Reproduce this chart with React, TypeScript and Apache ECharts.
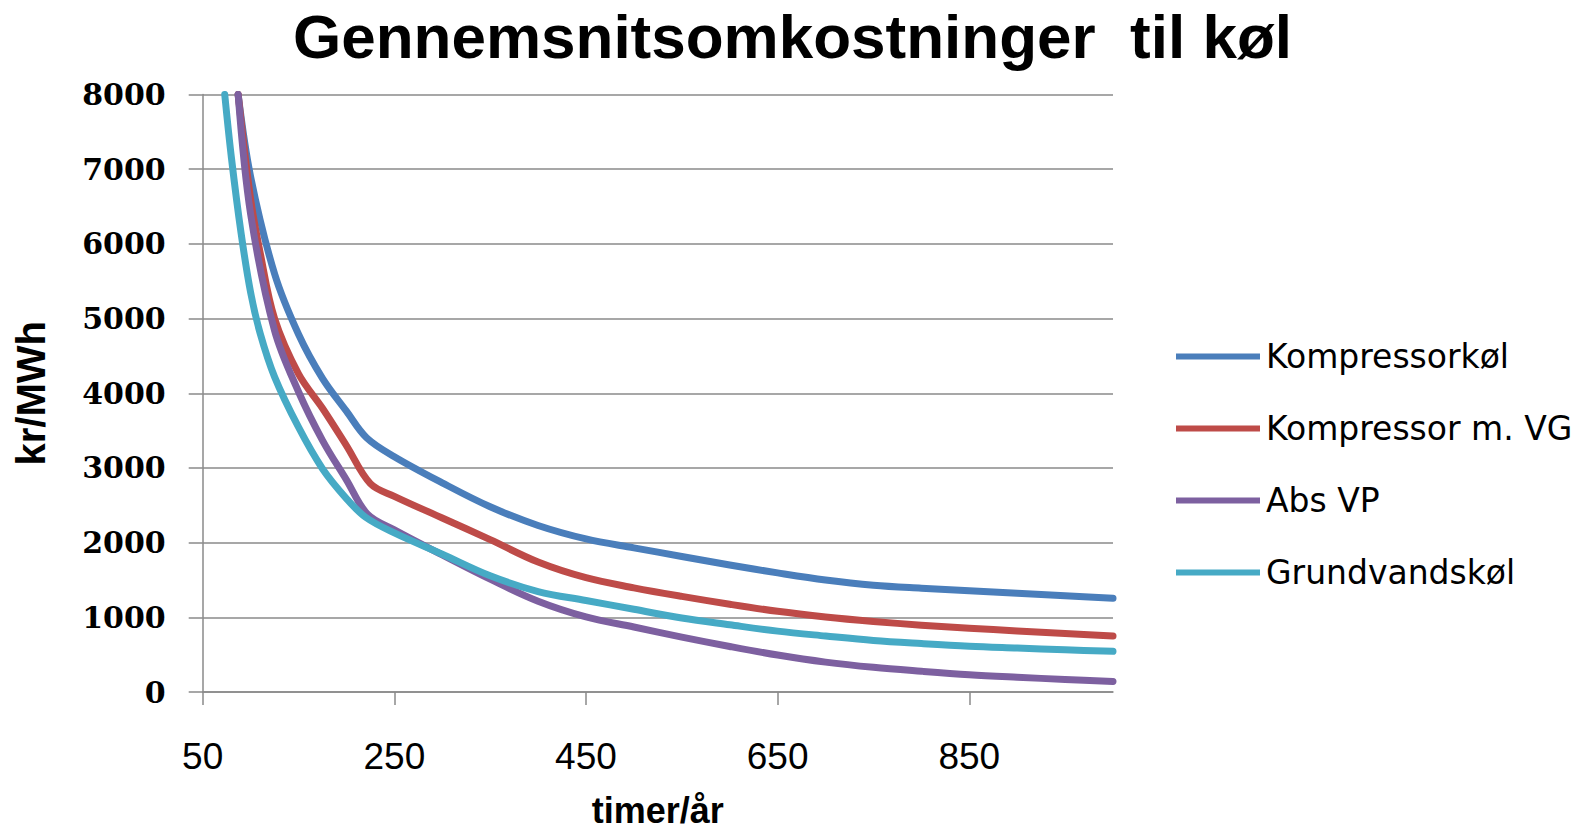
import React, { useEffect, useRef } from "react";
import * as echarts from "echarts";

const titleText = "Gennemsnitsomkostninger  til køl";
const xName = "timer/år";
const yName = "kr/MWh";

const seriesNames = ["Kompressorkøl", "Kompressor m. VG", "Abs VP", "Grundvandskøl"];
const seriesColors = ["#4A7EBB", "#BE4B48", "#7D60A0", "#46AAC5"];

const xTicks = [50, 250, 450, 650, 850];

const kompHours = [87, 100, 125, 150, 175, 200, 221, 250, 300, 350, 400, 450, 500, 550, 600, 650, 700, 750, 800, 850, 900, 950, 1000];
const kompValues = [8000, 6900, 5600, 4790, 4200, 3760, 3404, 3150, 2800, 2480, 2230, 2050, 1930, 1815, 1700, 1595, 1500, 1430, 1390, 1357, 1322, 1288, 1255];

const vgHours = [87, 100, 110, 125, 150, 175, 200, 225, 250, 300, 350, 400, 450, 500, 550, 600, 650, 700, 750, 800, 850, 900, 950, 1000];
const vgValues = [8000, 6600, 5880, 5000, 4260, 3800, 3300, 2790, 2620, 2330, 2040, 1740, 1530, 1395, 1280, 1175, 1080, 1005, 945, 895, 855, 818, 783, 750];

const absHours = [87, 100, 125, 150, 175, 200, 222, 250, 300, 350, 400, 450, 500, 550, 600, 650, 700, 750, 800, 850, 900, 950, 1000];
const absValues = [8000, 6400, 4840, 4020, 3370, 2840, 2380, 2170, 1835, 1510, 1215, 1005, 870, 735, 610, 495, 400, 330, 278, 232, 198, 168, 142];

const grundHours = [73, 80, 90, 100, 110, 125, 150, 175, 200, 220, 250, 300, 350, 400, 450, 500, 550, 600, 650, 700, 750, 800, 850, 900, 950, 1000];
const grundValues = [8000, 7150, 6150, 5350, 4800, 4220, 3545, 2990, 2590, 2340, 2130, 1845, 1556, 1345, 1225, 1108, 990, 900, 815, 750, 690, 648, 612, 588, 565, 545];

const allHours = [kompHours, vgHours, absHours, grundHours];
const allValues = [kompValues, vgValues, absValues, grundValues];

const gridColor = "#8a8a8a";

export default function App() {
  const ref = useRef<HTMLDivElement>(null);

  useEffect(() => {
    if (!ref.current) return;
    const chart = echarts.init(ref.current, undefined, { renderer: "svg" });
    const series = seriesNames.map((name, i) => ({
      name,
      type: "line",
      data: allHours[i].map((h, j) => [h, allValues[i][j]]),
      showSymbol: false,
      symbol: "none",
      smooth: 0.35,
      lineStyle: { color: seriesColors[i], width: 7, cap: "round", join: "round" },
      itemStyle: { color: seriesColors[i] },
      emphasis: { disabled: true },
    }));

    chart.setOption({
      animation: false,
      backgroundColor: "#ffffff",
      title: {
        text: titleText,
        left: "center",
        top: 5,
        padding: 0,
        textStyle: {
          fontFamily: "Liberation Sans",
          fontWeight: "bold",
          fontSize: 62,
          color: "#000000",
        },
      },
      legend: {
        orient: "vertical",
        left: 1171,
        top: 335,
        itemWidth: 84,
        itemHeight: 6,
        itemGap: 39,
        icon: "rect",
        data: seriesNames,
        textStyle: {
          fontFamily: "DejaVu Sans",
          fontSize: 33,
          lineHeight: 33,
          color: "#000000",
          padding: [0, 0, 0, 1],
        },
      },
      grid: {
        left: 202.7,
        right: 472,
        top: 94.5,
        bottom: 137,
        containLabel: false,
      },
      xAxis: {
        type: "value",
        min: 50,
        max: 1000,
        name: xName,
        nameLocation: "middle",
        nameGap: 118,
        nameTextStyle: {
          fontFamily: "Liberation Sans",
          fontWeight: "bold",
          fontSize: 36,
          color: "#000000",
          align: "center",
          verticalAlign: "middle",
        },
        axisLine: { show: true, lineStyle: { color: gridColor, width: 1.5 } },
        axisTick: {
          show: true,
          length: 13,
          customValues: xTicks,
          lineStyle: { color: gridColor, width: 1.5 },
        },
        axisLabel: {
          customValues: xTicks,
          margin: 46,
          fontFamily: "Liberation Sans",
          fontSize: 37,
          color: "#000000",
        },
        splitLine: { show: false },
      },
      yAxis: {
        type: "value",
        min: 0,
        max: 8000,
        interval: 1000,
        name: yName,
        nameLocation: "middle",
        nameRotate: 90,
        nameGap: 172,
        nameTextStyle: {
          fontFamily: "Liberation Sans",
          fontWeight: "bold",
          fontSize: 40,
          color: "#000000",
          align: "center",
          verticalAlign: "middle",
        },
        axisLine: { show: true, lineStyle: { color: gridColor, width: 1.5 } },
        axisTick: { show: true, length: 14, lineStyle: { color: gridColor, width: 1.5 } },
        axisLabel: {
          margin: 37,
          fontFamily: "DejaVu Serif",
          fontWeight: "bold",
          fontSize: 30,
          color: "#000000",
          formatter: (v: number) => String(v),
        },
        splitLine: { show: true, lineStyle: { color: gridColor, width: 1.5 } },
      },
      series,
    });

    return () => {
      chart.dispose();
    };
  }, []);

  return (
    <div
      ref={ref}
      style={{ position: "fixed", left: 0, top: 0, width: "1585px", height: "833px", background: "#ffffff" }}
    />
  );
}
